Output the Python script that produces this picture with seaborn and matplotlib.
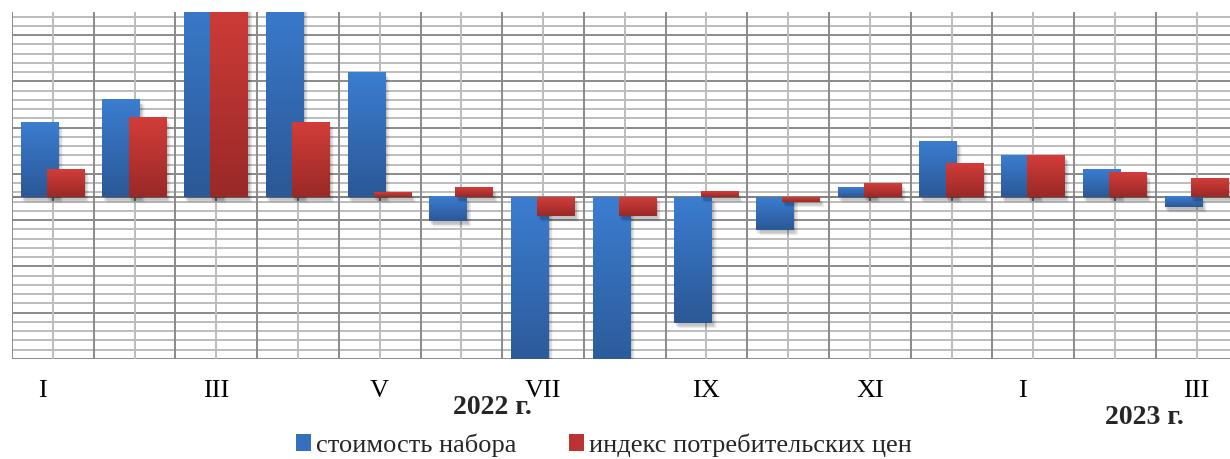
import numpy as np
import pandas as pd
import matplotlib
matplotlib.use("Agg")
import matplotlib.pyplot as plt
import matplotlib.patheffects as pe
from matplotlib.patches import Patch
from matplotlib.ticker import MultipleLocator
import seaborn as sns

# ---------------- data ----------------
months = ["I", "II", "III", "IV", "V", "VI", "VII", "VIII", "IX", "X", "XI", "XII", "I", "II", "III"]
tick_labels = ["I   ", "", "III", "", "V", "", "VII", "", "IX", "", "XI", "", "I   ", "", "III"]
cost_values = [1.60, 2.11, 4.60, 4.50, 2.70, -0.52, -3.80, -3.90, -2.72, -0.71, 0.21, 1.21, 0.90, 0.60, -0.22]
cpi_values = [0.60, 1.71, 4.40, 1.60, 0.10, 0.21, -0.41, -0.41, 0.11, -0.10, 0.30, 0.72, 0.90, 0.52, 0.41]
series_names = ["стоимость набора", "индекс потребительских цен"]
year_labels = ["2022 г.", "2023 г."]

# ---------------- style ----------------
sns.set_theme(style="white")
plt.rcParams["font.family"] = ["Liberation Serif", "DejaVu Serif"]

blue_top, blue_bot = "#3b7dd0", "#2b5896"
red_top, red_bot = "#d23d39", "#992927"

fig = plt.figure(figsize=(12.3, 4.59), dpi=100)
ax = fig.add_axes([12 / 1230, 1 - 359 / 459, 1225.5 / 1230, 347 / 459])

n = len(months)
pos = np.arange(n)
off = 0.16
bw = 0.465

df = pd.DataFrame({"pos": pos, "month": months, "cost": cost_values, "cpi": cpi_values})

shadow = [pe.SimplePatchShadow(offset=o, shadow_rgbFace="black", alpha=0.04)
          for o in [(0.5, -1.0), (1.0, -2.0), (1.5, -2.5), (2.0, -3.0), (2.5, -3.5), (1.0, -3.0), (3.0, -4.0)]] + [pe.Normal()]

n_before = len(ax.patches)
sns.barplot(x=df["pos"] - off, y=df["cost"], native_scale=True, width=bw,
            color=blue_top, errorbar=None, ax=ax, zorder=3, linewidth=0, edgecolor="none")
blue_patches = ax.patches[n_before:]
n_before = len(ax.patches)
sns.barplot(x=df["pos"] + off, y=df["cpi"], native_scale=True, width=bw,
            color=red_top, errorbar=None, ax=ax, zorder=4, linewidth=0, edgecolor="none")
red_patches = ax.patches[n_before:]

ymin, ymax = -3.5, 4.0
xmin, xmax = -0.5, n - 0.5


def grad_fill(patches, ctop, cbot, z):
    cmap = matplotlib.colors.LinearSegmentedColormap.from_list("g", [cbot, ctop])
    grad = np.linspace(0, 1, 64).reshape(-1, 1)
    for p in patches:
        p.set_linewidth(0)
        p.set_edgecolor("none")
        p.set_clip_on(True)
        p.set_path_effects(shadow)
        x0, y0 = p.get_x(), p.get_y()
        w, h = p.get_width(), p.get_height()
        ylo, yhi = min(y0, y0 + h), max(y0, y0 + h)
        ax.imshow(grad, cmap=cmap, origin="lower", aspect="auto",
                  extent=(x0, x0 + w, ylo, yhi), interpolation="bilinear",
                  zorder=z + 0.5)


grad_fill(blue_patches, blue_top, blue_bot, 3)
grad_fill(red_patches, red_top, red_bot, 4)

# grid
dark, light = "#8a8a8a", "#bcbcbc"
ax.yaxis.set_major_locator(MultipleLocator(1.0, offset=0.5))
ax.yaxis.set_minor_locator(MultipleLocator(0.2, offset=0.1))
ax.grid(False)
ax.grid(True, axis="y", which="minor", color=light, lw=1.4, zorder=0)
ax.grid(True, axis="y", which="major", color=dark, lw=1.4, zorder=0.5)
ax.vlines(pos, ymin, ymax, color=light, lw=1.4, zorder=0.6)
ax.vlines(np.arange(n + 1) - 0.5, ymin, ymax, color=dark, lw=1.4, zorder=0.7)
ax.axhline(0, color="#7f7f7f", lw=1.4, zorder=2)
ax.vlines(pos, -0.08, 0, color="#7f7f7f", lw=1.4, zorder=2)

ax.set_xlim(xmin, xmax)
ax.set_ylim(ymin, ymax)
ax.set_xticks(pos)
ax.set_xticklabels(tick_labels, fontsize=19, color="black")
ax.tick_params(axis="x", length=0, pad=15)
ax.tick_params(axis="y", which="both", left=False, labelleft=False)
ax.set_xlabel("")
ax.set_ylabel("")
for s in ax.spines.values():
    s.set_visible(False)

fig.text(492 / 1230, 1 - 408 / 459, year_labels[0], fontsize=20, fontweight="bold",
         ha="center", va="center")
fig.text(1144 / 1230, 1 - 417 / 459, year_labels[1], fontsize=20, fontweight="bold",
         ha="center", va="center")

handles = [Patch(facecolor="#3570bd", edgecolor="none"), Patch(facecolor="#bb3431", edgecolor="none")]
fig.legend(handles, series_names, loc="center", bbox_to_anchor=(604 / 1230, 1 - 445 / 459),
           ncol=2, frameon=False, fontsize=19, handlelength=0.57, handleheight=0.57,
           handletextpad=0.2, columnspacing=2.0, borderaxespad=0, borderpad=0)

fig.savefig("out.png", dpi=100, facecolor="white")
